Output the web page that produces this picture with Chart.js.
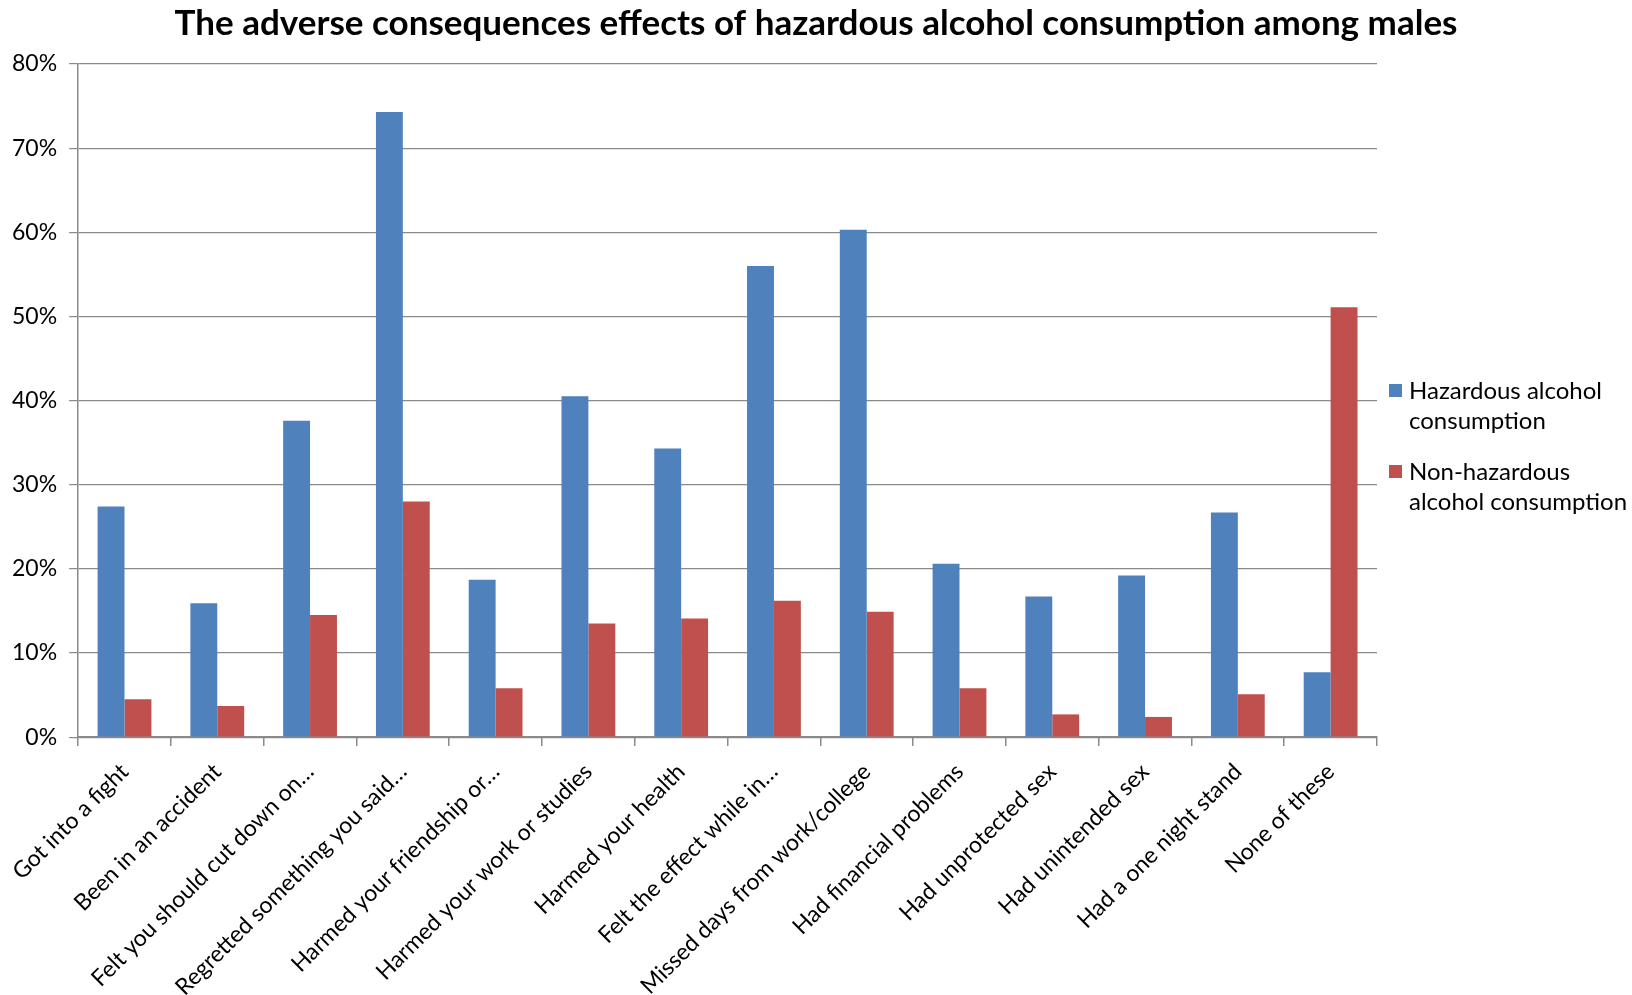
<!DOCTYPE html>
<html>
<head>
<meta charset="utf-8">
<script src="https://cdn.jsdelivr.net/npm/chart.js@4"></script>
<style>
  html, body { margin: 0; padding: 0; background: #fff; }
  #wrap { width: 1632px; height: 995px; }
</style>
</head>
<body>
<div id="wrap"><canvas id="chart" width="1632" height="995"></canvas></div>
<script>
// chart data
const categories = [
  'Got into a fight',
  'Been in an accident',
  'Felt you should cut down on…',
  'Regretted something you said…',
  'Harmed your friendship or…',
  'Harmed your work or studies',
  'Harmed your health',
  'Felt the effect while in…',
  'Missed days from work/college',
  'Had financial problems',
  'Had unprotected sex',
  'Had unintended sex',
  'Had a one night stand',
  'None of these'
];
const hazardous = [27.4, 15.9, 37.6, 74.3, 18.7, 40.5, 34.3, 56.0, 60.3, 20.6, 16.7, 19.2, 26.7, 7.7];
const nonHazardous = [4.5, 3.7, 14.5, 28.0, 5.8, 13.5, 14.1, 16.2, 14.9, 5.8, 2.7, 2.4, 5.1, 51.1];
const seriesNames = ['Hazardous alcohol consumption', 'Non-hazardous alcohol consumption'];
const legendLines = [['Hazardous alcohol', 'consumption'], ['Non-hazardous', 'alcohol consumption']];
const yTicks = [0, 10, 20, 30, 40, 50, 60, 70, 80];
const titleText = 'The adverse consequences effects of hazardous alcohol consumption among males';

const FONT = 'Lato, "Open Sans", sans-serif';
const gridGray = '#8a8a8a';

// title centred on the whole canvas + legend on the right with two-line labels
const extras = {
  id: 'extras',
  afterDraw(chart) {
    const ctx = chart.ctx;
    const area = chart.chartArea;
    ctx.save();
    ctx.fillStyle = '#000';
    ctx.textAlign = 'center';
    ctx.textBaseline = 'middle';
    ctx.font = 'bold 35px ' + FONT;
    ctx.fillText(titleText, chart.width / 2, 24);

    ctx.textAlign = 'left';
    ctx.font = '24px ' + FONT;
    const x = area.right + 12;
    let y = 391;
    chart.data.datasets.forEach((ds, i) => {
      ctx.fillStyle = ds.backgroundColor;
      ctx.fillRect(x, y - 7, 13, 13);
      ctx.fillStyle = '#000';
      legendLines[i].forEach((line, j) => {
        ctx.fillText(line, x + 20, y + j * 30);
      });
      y += 81;
    });
    ctx.restore();
  }
};

new Chart(document.getElementById('chart'), {
  type: 'bar',
  data: {
    labels: categories,
    datasets: [
      { label: seriesNames[0], data: hazardous, backgroundColor: '#4F81BD' },
      { label: seriesNames[1], data: nonHazardous, backgroundColor: '#C0504D' }
    ]
  },
  options: {
    responsive: false,
    animation: false,
    layout: { padding: { left: 0, right: 255, top: 64, bottom: -18 } },
    datasets: {
      bar: { barPercentage: 1.0, categoryPercentage: 0.58 }
    },
    plugins: {
      legend: { display: false },
      tooltip: { enabled: false },
      title: { display: false }
    },
    scales: {
      x: {
        grid: {
          display: true,
          drawOnChartArea: false,
          offset: true,
          color: gridGray,
          tickLength: 9,
          lineWidth: 1.5
        },
        border: { color: gridGray, width: 1.5 },
        ticks: {
          color: '#000',
          font: { family: FONT, size: 23 },
          minRotation: 45,
          maxRotation: 45,
          autoSkip: false,
          padding: 12
        }
      },
      y: {
        min: 0,
        max: 80,
        afterBuildTicks: (axis) => { axis.ticks = yTicks.map(v => ({ value: v })); },
        grid: { color: gridGray, tickLength: 9, lineWidth: 1.2 },
        border: { color: gridGray, width: 1.5 },
        ticks: {
          color: '#000',
          font: { family: FONT, size: 23 },
          padding: 12,
          callback: (v) => v + '%'
        }
      }
    }
  },
  plugins: [extras]
});
</script>
</body>
</html>
